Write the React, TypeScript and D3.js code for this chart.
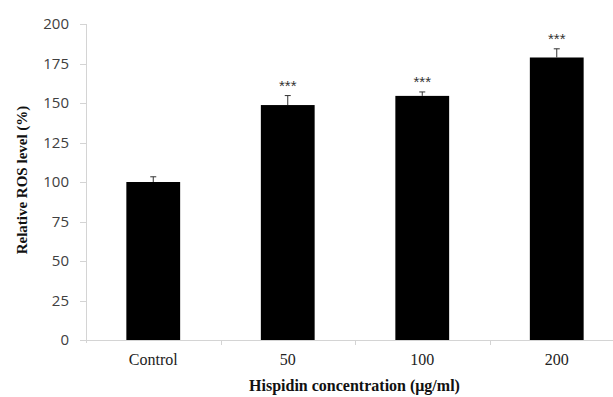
import React from "react";
import * as d3 from "d3";

const categories = ["Control", "50", "100", "200"];
const values = [100, 148.7, 154.5, 178.8];
const errors = [3.3, 6, 2.5, 5.5];
const significance = ["", "***", "***", "***"];
const yTicks = [0, 25, 50, 75, 100, 125, 150, 175, 200];

const W = 613;
const H = 397;

export default function App() {
  const x = d3.scaleBand<string>().domain(categories).range([86, 624]).paddingInner(0.6).paddingOuter(0.3);
  const xb = d3.scaleBand<string>().domain(categories).range([86, 624]);
  const y = d3.scaleLinear().domain([0, 200]).range([340, 24]);
  const axisColor = "#d4d4d4";

  return (
    <svg width={W} height={H} style={{ position: "absolute", left: 0, top: 0, background: "#fff" }}>
      <rect x={0} y={0} width={W} height={H} fill="#fff" />
      {/* y axis */}
      <line x1={86.5} x2={86.5} y1={y(200)} y2={343} stroke={axisColor} strokeWidth={1} />
      {yTicks.map((t) => (
        <g key={t}>
          <line x1={80} x2={86} y1={Math.round(y(t)) + 0.5} y2={Math.round(y(t)) + 0.5} stroke={axisColor} />
          <text
            x={69}
            y={y(t)}
            dy="0.36em"
            textAnchor="end"
            fontFamily="'Open Sans', sans-serif"
            fontSize={15}
            fill="#404040"
          >
            {t}
          </text>
        </g>
      ))}
      {/* x axis */}
      <line x1={86} x2={624} y1={340.5} y2={340.5} stroke={axisColor} />
      {categories.slice(1).map((c) => (
        <line key={c} x1={Math.round(xb(c)!) + 0.5} x2={Math.round(xb(c)!) + 0.5} y1={340} y2={345} stroke={axisColor} />
      ))}
      {/* bars */}
      {categories.map((c, i) => {
        const bx = x(c)!;
        const bw = x.bandwidth();
        const cx = bx + bw / 2;
        const top = y(values[i]);
        const et = y(values[i] + errors[i]);
        return (
          <g key={c}>
            <rect x={bx} y={top} width={bw} height={y(0) - top} fill="#000" />
            <line x1={cx} x2={cx} y1={top} y2={et} stroke="#333" strokeWidth={1} />
            <line x1={cx - 3} x2={cx + 3} y1={et} y2={et} stroke="#333" strokeWidth={1} />
            {significance[i] && (
              <text
                x={cx}
                y={et - 16}
                dy="0.75em"
                textAnchor="middle"
                fontFamily="'Liberation Sans', Arial, sans-serif"
                fontSize={15}
                fill="#333"
              >
                {significance[i]}
              </text>
            )}
            <text
              x={xb(c)! + xb.bandwidth() / 2}
              y={365}
              textAnchor="middle"
              fontFamily="'Liberation Serif', 'Times New Roman', serif"
              fontSize={16}
              fill="#222"
            >
              {c}
            </text>
          </g>
        );
      })}
      <text
        x={354.5}
        y={391}
        textAnchor="middle"
        fontFamily="'Liberation Serif', 'Times New Roman', serif"
        fontWeight="bold"
        fontSize={16}
        fill="#111"
      >
        Hispidin concentration (μg/ml)
      </text>
      <text
        transform={`translate(27,180) rotate(-90)`}
        textAnchor="middle"
        fontFamily="'Liberation Serif', 'Times New Roman', serif"
        fontWeight="bold"
        fontSize={15}
        fill="#111"
      >
        Relative ROS level (%)
      </text>
    </svg>
  );
}
